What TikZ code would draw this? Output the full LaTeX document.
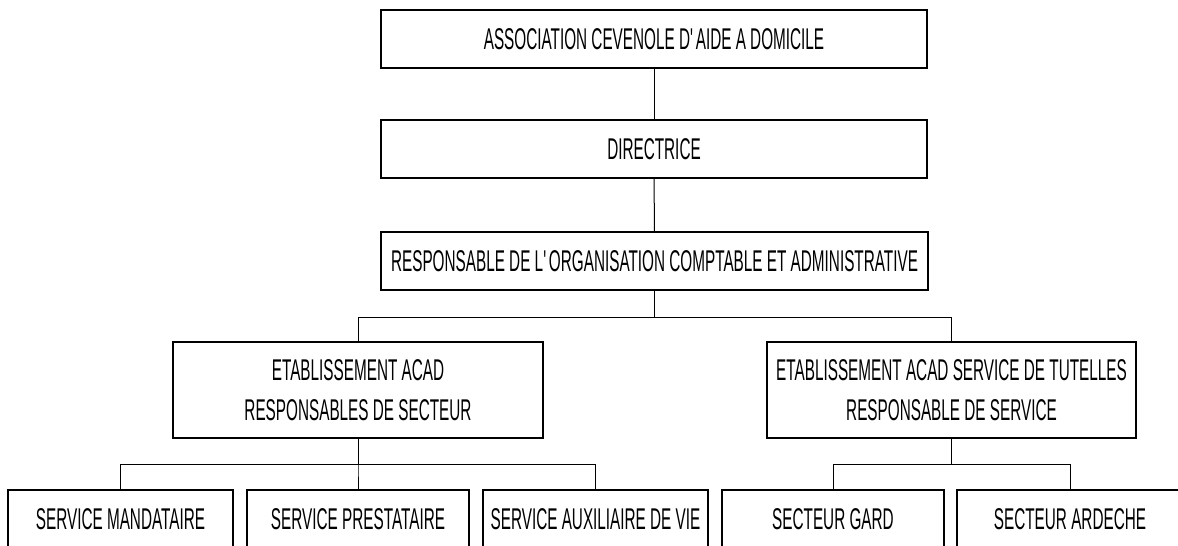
\documentclass[tikz,border=0pt]{standalone}
\usepackage{fontspec}
\setmainfont[FakeStretch=0.51]{Liberation Sans}
\usetikzlibrary{positioning}

\begin{document}
\begin{tikzpicture}[x=1pt,y=-1pt,
  orgbox/.style n args={2}{draw,line width=1.5pt,rectangle,inner sep=0pt,minimum width=#1pt,minimum height=#2pt,align=center,font=\fontsize{30}{40}\selectfont},
  link/.style={line width=1pt}]
\useasboundingbox (0,0) rectangle (1178,546);
\clip (0,0) rectangle (1178,546);
% top of the chart
\node[orgbox={546}{58}] (assoc) at (654,39) {ASSOCIATION CEVENOLE D\textquotesingle AIDE A DOMICILE};
\node[orgbox={546}{58}] (dir) at (654,149) {DIRECTRICE};
\node[orgbox={547}{58}] (resp) at (654.5,261) {RESPONSABLE DE L\textquotesingle ORGANISATION COMPTABLE ET ADMINISTRATIVE};
\draw[link] (assoc) -- (dir);
\draw[link] (dir) -- (resp);
% establishments
\node[orgbox={370}{96}] (etabA) at (358,390) {ETABLISSEMENT ACAD\\RESPONSABLES DE SECTEUR};
\node[orgbox={369}{96}] (etabB) at (951.5,390) {ETABLISSEMENT ACAD SERVICE DE TUTELLES\\RESPONSABLE DE SERVICE};
\draw[link] (resp.south) -- ++(0,27) -| (etabA.north);
\draw[link] (resp.south) -- ++(0,27) -| (etabB.north);
% services and sectors
\foreach \n/\x/\w/\t in %
{mand/120.5/225/SERVICE MANDATAIRE,prest/358/222/SERVICE PRESTATAIRE,aux/595.5/225/SERVICE AUXILIAIRE DE VIE,gard/833/222/SECTEUR GARD,ardeche/1070/226/SECTEUR ARDECHE} {
   \node[orgbox={\w}{58}] (\n) at (\x,519) {\t};
}
\foreach \n in {mand,prest,aux} {
   \draw[link] (etabA.south) -- ++(0,26) -| (\n.north);
}
\foreach \n in {gard,ardeche} {
   \draw[link] (etabB.south) -- ++(0,26) -| (\n.north);
}
\end{tikzpicture}
\end{document}
